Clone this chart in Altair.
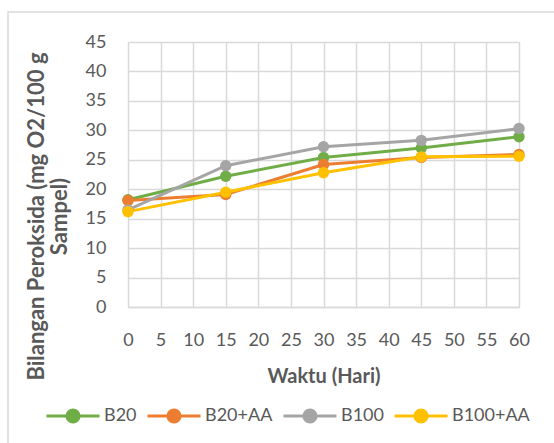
import altair as alt
import pandas as pd

# Storage time (days) and peroxide values per sample
days = [0, 15, 30, 45, 60]
series_names = ["B20", "B20+AA", "B100", "B100+AA"]
b20 = [18.2, 22.2, 25.4, 27.0, 28.9]
b20_aa = [18.1, 19.1, 24.2, 25.4, 25.9]
b100 = [16.5, 24.0, 27.2, 28.3, 30.3]
b100_aa = [16.2, 19.5, 22.8, 25.5, 25.6]
palette = ["#70AD47", "#ED7D31", "#A5A5A5", "#FFC000"]

rows = []
for name, vals in zip(series_names, [b20, b20_aa, b100, b100_aa]):
    for d, v in zip(days, vals):
        rows.append({"Hari": d, "Nilai": v, "Sampel": name})
df = pd.DataFrame(rows)

FONT = "Lato"
TEXT = "#595959"
GRID = "#D9D9D9"

color_scale = alt.Scale(domain=series_names, range=palette)

x_enc = alt.X(
    "Hari:Q",
    scale=alt.Scale(domain=[0, 60], nice=False),
    axis=alt.Axis(
        values=list(range(0, 61, 5)),
        title="Waktu (Hari)",
        titleBaseline="alphabetic",
        titleY=75,
        titleFontSize=20,
        labelPadding=38,
        labelBaseline="alphabetic",
        labelOverlap=False,
        labelFlush=False,
        tickSize=0,
        ticks=False,
        domainColor=GRID,
        domainWidth=1.5,
    ),
)
y_enc = alt.Y(
    "Nilai:Q",
    scale=alt.Scale(domain=[0, 45], nice=False),
    axis=alt.Axis(
        values=list(range(0, 46, 5)),
        title=["Bilangan Peroksida (mg O2/100 g", "Sampel)"],
        titleAngle=270,
        titleAlign="center",
        titleBaseline="alphabetic",
        titleX=-85,
        titleY=174,
        titleFontSize=22,
        titleLineHeight=23.5,
        labelPadding=22,
        labelOverlap=False,
        tickSize=0,
        ticks=False,
        domain=False,
    ),
)

# legend swatch: a short line with a dot in the middle
legend_symbol = (
    "M-1,0H1"
    "M-0.23,0A0.23,0.23 0 1 0 0.23,0A0.23,0.23 0 1 0 -0.23,0Z"
)
legend = alt.Legend(
    title=None,
    orient="none",
    direction="horizontal",
    legendX=-83,
    legendY=346,
    gridAlign="none",
    symbolType=legend_symbol,
    symbolSize=2809,
    symbolStrokeWidth=3,
    labelOffset=3,
    columnPadding=4,
    labelFont=FONT,
    labelFontSize=18,
    labelColor=TEXT,
)

lines = alt.Chart(df).mark_line(strokeWidth=3).encode(
    x=x_enc,
    y=y_enc,
    stroke=alt.Stroke("Sampel:N", scale=color_scale, sort=series_names, legend=legend),
    detail="Sampel:N",
)

points = alt.Chart(df).mark_point(filled=True, size=130, opacity=1, strokeWidth=0).encode(
    x=x_enc,
    y=y_enc,
    fill=alt.Fill("Sampel:N", scale=color_scale, sort=series_names, legend=legend),
)

# light frame around the whole chart
frame = alt.Chart(pd.DataFrame({"k": [0]})).mark_rect(
    fill=None, stroke=GRID, strokeWidth=1.5
).encode(
    x=alt.value(-120), x2=alt.value(450), y=alt.value(-30), y2=alt.value(420)
)

chart = (
    alt.layer(frame, lines, points)
    .properties(
        width=391,
        height=265,
        padding={"left": 128, "top": 42, "right": 35, "bottom": 136},
        autosize=alt.AutoSizeParams(type="none"),
    )
    .configure_view(stroke=None)
    .configure_axis(
        gridColor=GRID,
        gridWidth=1.5,
        labelFont=FONT,
        labelFontSize=18,
        labelColor=TEXT,
        titleFont=FONT,
        titleFontSize=19,
        titleFontWeight="bold",
        titleColor=TEXT,
    )
)

chart.save("out.html", embed_options={"renderer": "svg", "actions": False})
